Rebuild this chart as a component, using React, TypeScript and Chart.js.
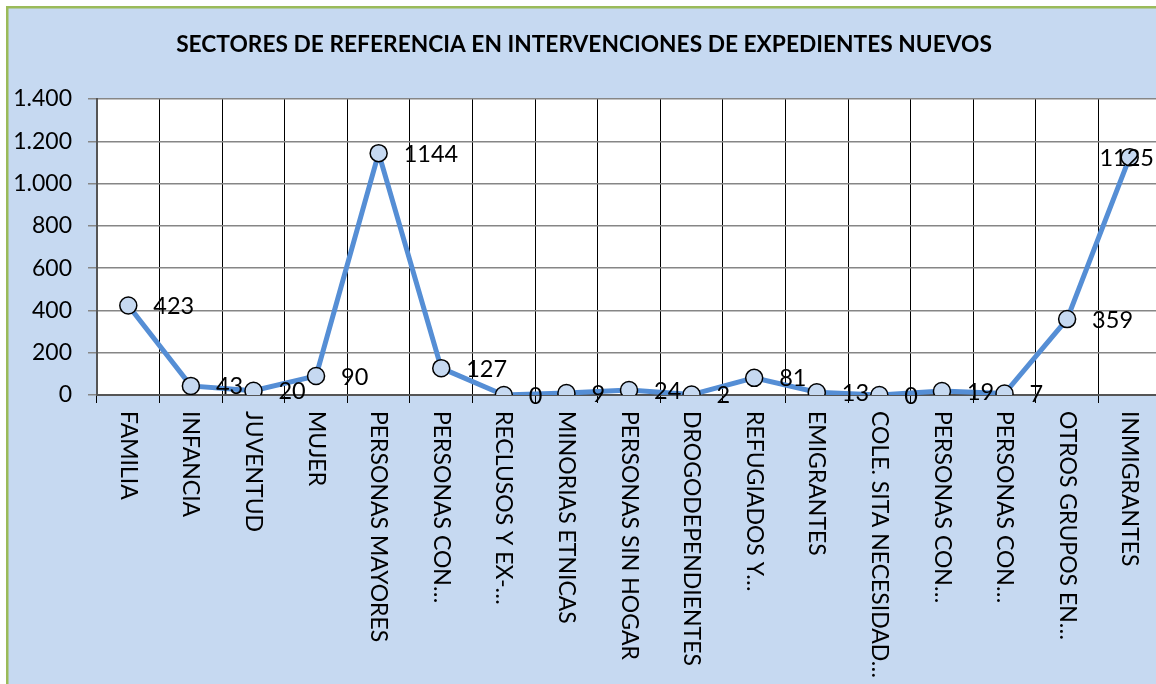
import React, { useEffect, useRef } from "react";
import { Chart, registerables } from "chart.js";

Chart.register(...registerables);

const TITLE = "SECTORES DE REFERENCIA EN INTERVENCIONES DE EXPEDIENTES NUEVOS";

const categories = [
  "FAMILIA",
  "INFANCIA",
  "JUVENTUD",
  "MUJER",
  "PERSONAS MAYORES",
  "PERSONAS CON…",
  "RECLUSOS Y EX-…",
  "MINORIAS ETNICAS",
  "PERSONAS SIN HOGAR",
  "DROGODEPENDIENTES",
  "REFUGIADOS Y…",
  "EMIGRANTES",
  "COLE. SITA NECESIDAD…",
  "PERSONAS CON…",
  "PERSONAS CON…",
  "OTROS GRUPOS EN…",
  "INMIGRANTES",
];

const values = [423, 43, 20, 90, 1144, 127, 0, 9, 24, 2, 81, 13, 0, 19, 7, 359, 1125];

const yTicks = [0, 200, 400, 600, 800, 1000, 1200, 1400];

const FONT = "Lato, 'Open Sans', sans-serif";
const BG = "#C6D9F1";
const LINE = "#558ED5";

const fmt = (v: number) => String(v).replace(/\B(?=(\d{3})+(?!\d))/g, ".");

const decor = {
  id: "decor",
  beforeDraw(chart: any) {
    const { ctx, width, height, chartArea } = chart;
    ctx.save();
    ctx.fillStyle = "#ffffff";
    ctx.fillRect(0, 0, width, height);
    ctx.fillStyle = BG;
    ctx.fillRect(8, 8, width - 8, height - 8);
    ctx.fillStyle = "#9BBB59";
    ctx.fillRect(6, 6, 2.5, height - 6);
    ctx.fillRect(6, 6, width - 6, 2.5);
    ctx.fillStyle = "#ffffff";
    ctx.fillRect(chartArea.left, chartArea.top, chartArea.right - chartArea.left, chartArea.bottom - chartArea.top);
    // title
    ctx.fillStyle = "#000";
    let size = 21;
    ctx.font = `bold ${size}px ${FONT}`;
    const w = ctx.measureText(TITLE).width;
    size = size * (816 / w);
    ctx.font = `bold ${size}px ${FONT}`;
    ctx.textAlign = "center";
    ctx.textBaseline = "middle";
    ctx.fillText(TITLE, 584, 45);
    ctx.restore();
  },
  afterDraw(chart: any) {
    const { ctx } = chart;
    const xs = chart.scales.x;
    ctx.save();
    ctx.fillStyle = "#000";
    ctx.font = `23px ${FONT}`;
    ctx.textAlign = "left";
    ctx.textBaseline = "middle";
    categories.forEach((c, i) => {
      const x = xs.getPixelForValue(i);
      ctx.save();
      ctx.translate(x, 411);
      ctx.rotate(Math.PI / 2);
      ctx.fillText(c, 0, 0);
      ctx.restore();
    });
    ctx.restore();
  },
  afterDatasetsDraw(chart: any) {
    const { ctx } = chart;
    const meta = chart.getDatasetMeta(0);
    ctx.save();
    ctx.fillStyle = "#000";
    ctx.font = `23.5px ${FONT}`;
    ctx.textBaseline = "middle";
    meta.data.forEach((pt: any, i: number) => {
      const txt = String(values[i]);
      const w = ctx.measureText(txt).width;
      if (pt.x + 25 + w > 1156) {
        ctx.textAlign = "center";
        ctx.fillText(txt, pt.x - 3, pt.y + 1);
      } else {
        ctx.textAlign = "left";
        ctx.fillText(txt, pt.x + 25, pt.y + 1);
      }
    });
    ctx.restore();
  },
};

export default function App() {
  const ref = useRef<HTMLCanvasElement | null>(null);
  useEffect(() => {
    if (!ref.current) return;
    const chart = new Chart(ref.current, {
      type: "line",
      data: {
        labels: categories,
        datasets: [
          {
            data: values,
            borderColor: LINE,
            borderWidth: 5,
            tension: 0,
            pointRadius: 8.5,
            pointBackgroundColor: BG,
            pointBorderColor: "#000",
            pointBorderWidth: 1.5,
          },
        ],
      },
      plugins: [decor],
      options: {
        responsive: false,
        animation: false,
        events: [],
        layout: { padding: { top: 99, left: 0, right: 0, bottom: 0 } },
        plugins: {
          legend: { display: false },
          title: { display: false },
          tooltip: { enabled: false },
        },
        scales: {
          x: {
            offset: true,
            grid: { offset: true, color: "#000", lineWidth: 1, tickLength: 8, drawTicks: true },
            border: { color: "#555", width: 2 },
            ticks: { display: false },
            afterFit: (s: any) => {
              s.height = 684 - 395;
            },
          },
          y: {
            min: 0,
            max: 1400,
            afterBuildTicks: (s: any) => {
              s.ticks = yTicks.map((v) => ({ value: v }));
            },
            grid: { color: "#868686", lineWidth: 1.5, tickLength: 9, drawTicks: true },
            border: { color: "#555", width: 2 },
            ticks: {
              color: "#000",
              padding: 16,
              font: { family: FONT, size: 23 },
              callback: (v: any) => fmt(Number(v)),
            },
            afterFit: (s: any) => {
              s.width = 97;
            },
          },
        },
      },
    });
    return () => chart.destroy();
  }, []);
  return (
    <div style={{ position: "fixed", left: 0, top: 0, width: 1156, height: 684, overflow: "hidden", background: "#fff" }}>
      <canvas ref={ref} width={1171} height={684} style={{ display: "block", width: 1171, height: 684 }} />
    </div>
  );
}
